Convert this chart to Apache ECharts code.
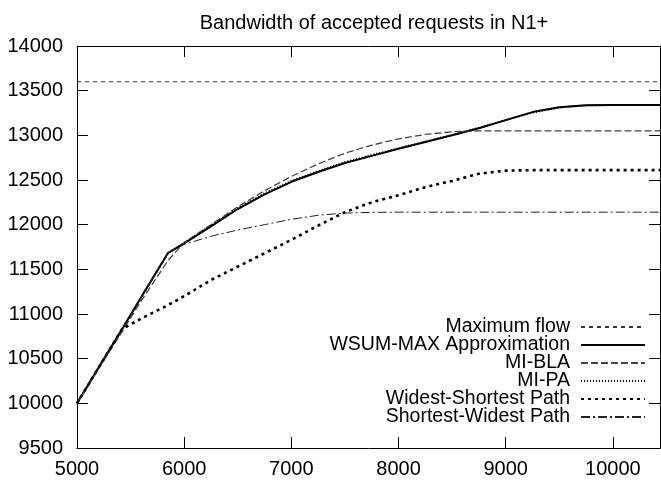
<!DOCTYPE html>
<html>
<head>
<meta charset="utf-8">
<script src="https://cdn.jsdelivr.net/npm/echarts@6/dist/echarts.min.js"></script>
<style>
  html, body { margin: 0; padding: 0; background: #fff; }
  #chart { width: 661px; height: 480px; }
</style>
</head>
<body>
<div id="chart"></div>
<script>
// x values (number of requests) shared by the curves
var xs = [5000, 5250, 5420, 5600, 5850, 6000, 6250, 6500, 6750, 7000, 7250, 7500,
  7750, 8000, 8250, 8500, 8750, 9000, 9250, 9500, 9750, 10000, 10500]

var maxFlowX = [5000, 10500]
var maxFlow = [13600, 13600]

var wsumMax = [10000, 10495, 10830, 11190, 11685, 11790, 11980, 12175, 12340, 12480, 12590, 12690,
  12770, 12850, 12925, 13000, 13080, 13170, 13260, 13315, 13338, 13340, 13340]
var miBla = [10000, 10480, 10800, 11150, 11600, 11800, 12000, 12200, 12380, 12540, 12680, 12800,
  12890, 12960, 13010, 13040, 13050, 13050, 13050, 13050, 13050, 13050, 13050]
var miPa = [10000, 10495, 10830, 11190, 11680, 11795, 11990, 12185, 12350, 12490, 12600, 12700,
  12780, 12855, 12930, 13005, 13085, 13170, 13255, 13310, 13336, 13340, 13340]
var widestShortest = [10000, 10495, 10830, 10950, 11100, 11200, 11380, 11530, 11680, 11830, 11990, 12140,
  12250, 12330, 12420, 12490, 12570, 12605, 12610, 12610, 12610, 12610, 12610]
var shortestWidest = [10000, 10495, 10830, 11190, 11685, 11780, 11870, 11940, 12000, 12060, 12105, 12130,
  12138, 12140, 12140, 12140, 12140, 12140, 12140, 12140, 12140, 12140, 12140]

var xTicks = { min: 5000, max: 10440, interval: 1000 }
var yTicks = { min: 9500, max: 14000, interval: 500 }

function pairs(x, y) {
  var out = []
  for (var i = 0; i < x.length; i++) out.push([x[i], y[i]])
  return out
}

var font = 'Liberation Sans, Arial, sans-serif'

function axisBase(type, pos, labels) {
  return {
    type: 'value',
    position: pos,
    min: type.min,
    max: type.max,
    interval: type.interval,
    axisLine: { show: true, lineStyle: { color: '#000', width: 1 } },
    axisTick: { show: true, inside: true, length: 11, lineStyle: { color: '#000', width: 1 } },
    axisLabel: {
      show: labels,
      color: '#000',
      fontFamily: font,
      fontSize: 20,
      margin: pos === 'bottom' ? 11 : 14,
      formatter: function(v) { return String(v) },
      showMaxLabel: pos !== 'bottom'
    },
    splitLine: { show: false }
  }
}

function line(name, data, style) {
  return {
    name: name,
    type: 'line',
    data: data,
    showSymbol: false,
    symbol: 'none',
    color: '#000',
    animation: false,
    lineStyle: style
  }
}

var chart = echarts.init(document.getElementById('chart'))
chart.setOption({
  backgroundColor: '#fff',
  animation: false,
  title: {
    text: 'Bandwidth of accepted requests in N1+',
    left: 369,
    top: 8,
    textAlign: 'center',
    textStyle: { color: '#000', fontFamily: font, fontSize: 20, fontWeight: 'normal' }
  },
  grid: { left: 77, right: 1, top: 46, bottom: 32, containLabel: false },
  legend: {
    orient: 'vertical',
    right: 10,
    top: 312,
    align: 'right',
    itemWidth: 64,
    itemHeight: 14,
    itemGap: -2,
    itemStyle: { opacity: 0 },
    textStyle: { color: '#000', fontFamily: font, fontSize: 19.5, lineHeight: 14, padding: [0, 6, 0, 0] },
    data: ['Maximum flow', 'WSUM-MAX Approximation', 'MI-BLA', 'MI-PA',
      'Widest-Shortest Path', 'Shortest-Widest Path']
  },
  xAxis: [axisBase(xTicks, 'bottom', true), axisBase(xTicks, 'top', false)],
  yAxis: [axisBase(yTicks, 'left', true), axisBase(yTicks, 'right', false)],
  series: [
    line('Maximum flow', pairs(maxFlowX, maxFlow), { color: '#333', width: 1, type: [4, 4] }),
    line('WSUM-MAX Approximation', pairs(xs, wsumMax), { color: '#000', width: 2, type: 'solid' }),
    line('MI-BLA', pairs(xs, miBla), { color: '#444', width: 1.3, type: [7, 3] }),
    line('MI-PA', pairs(xs, miPa), { color: '#000', width: 2, type: [1, 2] }),
    line('Widest-Shortest Path', pairs(xs, widestShortest), { color: '#000', width: 2.6, type: [3, 4] }),
    line('Shortest-Widest Path', pairs(xs, shortestWidest), { color: '#222', width: 1, type: [9, 3, 2, 3] })
  ]
})
</script>
</body>
</html>
